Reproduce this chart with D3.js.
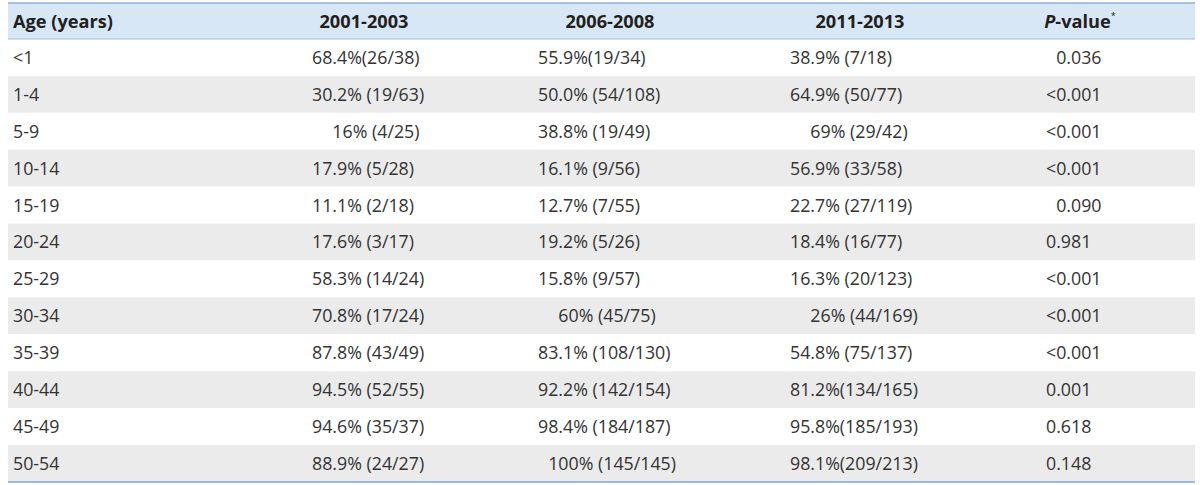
<!DOCTYPE html>
<html><head><meta charset="utf-8">
<script src="https://cdn.jsdelivr.net/npm/d3@7"></script>
<style>html,body{margin:0;padding:0;background:#fff;}svg{display:block;}</style>
</head><body>
<svg id="c" width="1200" height="485"></svg>
<script>
const F = "\u2007"; // figure space used for alignment padding, as in the source table
const headers = ["Age (years)", "2001-2003", "2006-2008", "2011-2013", "P-value"];
const ageGroups = ["<1","1-4","5-9","10-14","15-19","20-24","25-29","30-34","35-39","40-44","45-49","50-54"];
const period2001 = ["68.4%(26/38)","30.2% (19/63)",F+F+"16% (4/25)","17.9% (5/28)","11.1% (2/18)","17.6% (3/17)","58.3% (14/24)","70.8% (17/24)","87.8% (43/49)","94.5% (52/55)","94.6% (35/37)","88.9% (24/27)"];
const period2006 = ["55.9%(19/34)","50.0% (54/108)","38.8% (19/49)","16.1% (9/56)","12.7% (7/55)","19.2% (5/26)","15.8% (9/57)",F+F+"60% (45/75)","83.1% (108/130)","92.2% (142/154)","98.4% (184/187)",F+"100% (145/145)"];
const period2011 = ["38.9% (7/18)","64.9% (50/77)",F+F+"69% (29/42)","56.9% (33/58)","22.7% (27/119)","18.4% (16/77)","16.3% (20/123)",F+F+"26% (44/169)","54.8% (75/137)","81.2%(134/165)","95.8%(185/193)","98.1%(209/213)"];
const pValues = [F+"0.036","<0.001","<0.001","<0.001",F+"0.090","0.981","<0.001","<0.001","<0.001","0.001","0.618","0.148"];

const tblLeft = 8, tblRight = 1195, tblTop = 3, headH = 36, tblBottom = 482;
const svg = d3.select("#c");
const font = "'Open Sans', 'Noto Sans', sans-serif";

const rows = ageGroups.map((a,i)=>({age:a, c1:period2001[i], c2:period2006[i], c3:period2011[i], p:pValues[i]}));
const y = d3.scaleBand().domain(d3.range(rows.length)).range([tblTop+headH, tblBottom]);

svg.append("rect").attr("x",tblLeft).attr("y",tblTop).attr("width",tblRight-tblLeft).attr("height",headH).attr("fill","#d8e7f5");
svg.selectAll("rect.row").data(rows).join("rect").attr("class","row")
  .attr("x",tblLeft).attr("y",(d,i)=>y(i)).attr("width",tblRight-tblLeft).attr("height",y.bandwidth())
  .attr("fill",(d,i)=> i%2===1 ? "#ebebeb" : "#ffffff");
svg.append("line").attr("x1",tblLeft).attr("x2",tblRight).attr("y1",tblTop).attr("y2",tblTop).attr("stroke","#8db3d6").attr("stroke-width",1.5);
svg.append("line").attr("x1",tblLeft).attr("x2",tblRight).attr("y1",tblTop+headH).attr("y2",tblTop+headH).attr("stroke","#9dbfdd").attr("stroke-width",1.2);
svg.append("line").attr("x1",tblLeft).attr("x2",tblRight).attr("y1",tblBottom).attr("y2",tblBottom).attr("stroke","#7fa9d1").attr("stroke-width",1.5);

const dataX = [13, 312, 538, 790, 1046];
const headX = [13, 364, 610, 860, 1080];
const fs = 17.8, hfs = 18.2;

const hy = tblTop + headH/2;
headers.forEach((h,j)=>{
  const t = svg.append("text").attr("x",headX[j]).attr("y",hy).attr("dy","0.36em")
    .attr("text-anchor", j===0 ? "start" : "middle")
    .attr("font-family",font).attr("font-size",hfs).attr("font-weight",700).attr("fill","#231f20");
  if (j===4){
    t.append("tspan").attr("font-style","italic").text("P");
    t.append("tspan").text("-value");
    t.append("tspan").attr("font-size",9).attr("font-weight",400).attr("dy","-0.9em").text("*");
  } else t.text(h);
});

const keys = ["age","c1","c2","c3","p"];
keys.forEach((k,j)=>{
  svg.selectAll("text.col"+j).data(rows).join("text").attr("class","col"+j)
    .attr("x",dataX[j]).attr("y",(d,i)=>y(i)+y.bandwidth()/2).attr("dy","0.36em")
    .attr("font-family",font).attr("font-size",fs).attr("font-weight",400).attr("fill","#333333")
    .style("white-space","pre")
    .text(d=>d[k]);
});
</script>
</body></html>
